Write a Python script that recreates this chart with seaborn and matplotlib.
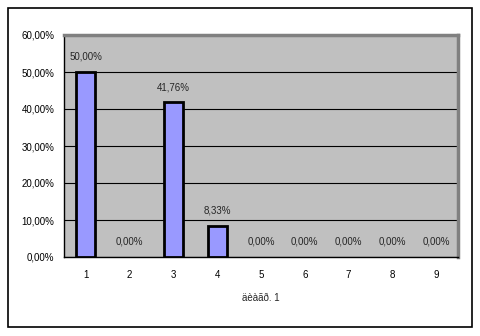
import matplotlib
matplotlib.use("Agg")
import matplotlib.pyplot as plt
import seaborn as sns
import pandas as pd
from matplotlib.patches import Rectangle
from matplotlib.ticker import FuncFormatter, FixedLocator

categories = ["1", "2", "3", "4", "5", "6", "7", "8", "9"]
values = [50.00, 0.00, 41.76, 8.33, 0.00, 0.00, 0.00, 0.00, 0.00]
y_ticks = [0, 10, 20, 30, 40, 50, 60]
x_label = "äèàãð. 1"

sns.set_theme(style="white")
plt.rcParams['font.family'] = ['Liberation Sans', 'DejaVu Sans']

df = pd.DataFrame({"cat": categories, "val": values})

fig = plt.figure(figsize=(4.81, 3.36), dpi=100)
ax = fig.add_axes([64/481, 1 - 257/336, (458-64)/481, (257-35)/336])
ax.set_facecolor("#c0c0c0")

sns.barplot(data=df, x="cat", y="val", ax=ax, color="#9999ff", width=0.43,
            edgecolor="black", linewidth=2, saturation=1, zorder=3)
for p in ax.patches:
    if p.get_height() == 0:
        p.set_visible(False)

ax.set_ylim(0, 60)
ax.set_xlim(-0.5, 8.5)
ax.yaxis.set_major_locator(FixedLocator(y_ticks))
ax.yaxis.set_major_formatter(FuncFormatter(lambda v, p: f"{v:.2f}".replace('.', ',') + "%"))
ax.grid(axis="y", color="black", linewidth=0.8, zorder=0)
ax.set_axisbelow(True)

# x tick marks at category boundaries
ax.tick_params(axis="x", which="major", length=0, pad=9, labelsize=7, colors="black")
ax.set_xticks([i - 0.5 for i in range(10)], minor=True)
ax.tick_params(axis="x", which="minor", length=4, width=0.8, direction="out", color="black")
ax.tick_params(axis="y", which="major", length=4, width=0.8, direction="out", labelsize=7, colors="black", pad=3)

for s in ["left", "bottom"]:
    ax.spines[s].set_color("black")
    ax.spines[s].set_linewidth(1)
for s in ["top", "right"]:
    ax.spines[s].set_color("#808080")
    ax.spines[s].set_linewidth(2.5)

ax.set_xlabel(x_label, fontsize=7, labelpad=10)
ax.set_ylabel("")

for i, v in enumerate(values):
    ax.annotate(f"{v:.2f}".replace('.', ',') + "%", (i, v), xytext=(0, 7.5),
                textcoords="offset points", ha="center", va="bottom", fontsize=7, zorder=5)

fig.patches.append(Rectangle((8/481, 1 - 327/336), 464/481, 319/336, transform=fig.transFigure,
                             fill=False, edgecolor="black", linewidth=1.2))

fig.savefig("out.png", dpi=100)
